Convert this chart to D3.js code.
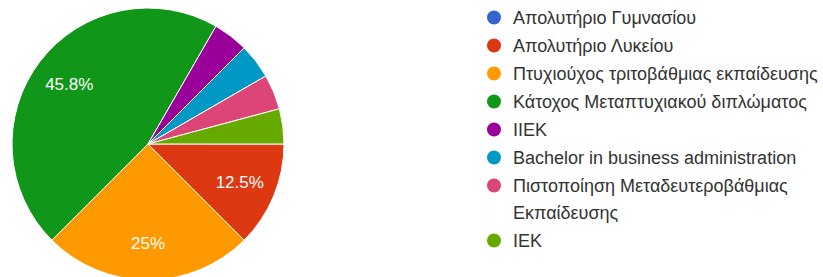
<!DOCTYPE html>
<html><head><meta charset="utf-8">
<script src="https://cdn.jsdelivr.net/npm/d3@7"></script>
<style>body{margin:0;background:#fff;}svg{display:block;}</style>
</head><body>
<svg id="c" width="823" height="277"></svg>
<script>
const categories = ["Απολυτήριο Γυμνασίου","Απολυτήριο Λυκείου","Πτυχιούχος τριτοβάθμιας εκπαίδευσης","Κάτοχος Μεταπτυχιακού διπλώματος","ΙΙΕΚ","Bachelor in business administration","Πιστοποίηση Μεταδευτεροβάθμιας\nΕκπαίδευσης","ΙΕΚ"];
const values = [0, 3, 6, 11, 1, 1, 1, 1];
const colors = ["#3366cc","#dc3912","#ff9900","#109618","#990099","#0099c6","#dd4477","#66aa00"];

const svg = d3.select("#c");
const cx = 148, cy = 144, r = 136;
const total = d3.sum(values);
const pie = d3.pie().sort(null).value(d => d).startAngle(Math.PI/2).endAngle(Math.PI/2 + 2*Math.PI);
const arcs = pie(values);
const arc = d3.arc().innerRadius(0).outerRadius(r);
const labelArc = d3.arc().innerRadius(r*0.73).outerRadius(r*0.73);
const g = svg.append("g").attr("transform",`translate(${cx},${cy})`);
g.selectAll("path").data(arcs).join("path")
  .attr("d", arc).attr("fill",(d,i)=>colors[i])
  .attr("stroke","#fff").attr("stroke-width",1);
const fmt = v => { const p = v/total*100; return (Math.round(p*10)/10) + "%"; };
g.selectAll("text").data(arcs.filter(d => d.value/total >= 0.1)).join("text")
  .attr("transform", d => `translate(${labelArc.centroid(d)})`)
  .attr("text-anchor","middle").attr("dy","0.35em")
  .attr("fill","#fff").style("font-family","'Liberation Sans',Arial,sans-serif").style("font-size","17px")
  .text(d => fmt(d.value));

const lg = svg.append("g").attr("transform","translate(494,0)");
let y = 17.5;
categories.forEach((c,i) => {
  const lines = c.split("\n");
  lg.append("circle").attr("cx",0).attr("cy",y).attr("r",7).attr("fill",colors[i]);
  const t = lg.append("text").attr("x",19).attr("y",y)
    .attr("fill","#333").style("font-family","'Liberation Sans',Arial,sans-serif").style("font-size","18px");
  lines.forEach((l,j) => t.append("tspan").attr("x",19).attr("dy", j===0 ? "0.35em" : "27px").text(l));
  y += 28 + (lines.length-1)*27;
});
</script>
</body></html>
